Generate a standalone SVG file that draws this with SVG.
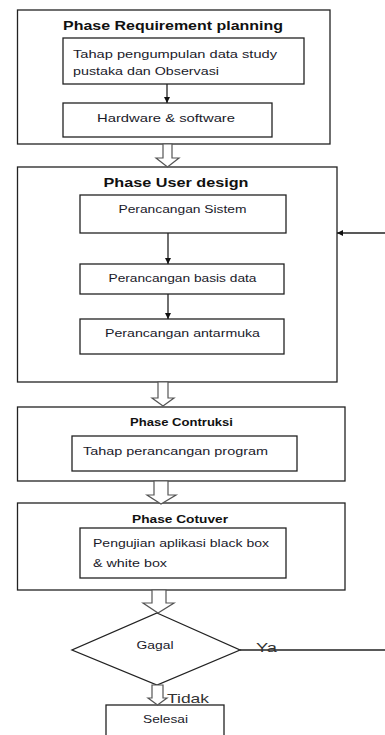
<svg xmlns="http://www.w3.org/2000/svg" width="385" height="735" viewBox="0 0 385 735">
<style>
.box{fill:#fff;stroke:#222;stroke-width:1.3}
.t{font-family:"Liberation Sans",Arial,sans-serif;font-size:11.5px;fill:#1a1a2a}
.b{font-family:"Liberation Sans",Arial,sans-serif;font-weight:bold;font-size:13.5px;fill:#111}
.bs{font-family:"Liberation Sans",Arial,sans-serif;font-weight:bold;font-size:11.5px;fill:#111}
.lbl{font-family:"Liberation Sans",Arial,sans-serif;font-size:13.5px;fill:#333}
.ln{stroke:#222;stroke-width:1.3;fill:none}
.hollow{fill:#fff;stroke:#555;stroke-width:1.2}
</style>
<defs>
<marker id="ah" viewBox="0 0 10 10" refX="10" refY="5" markerWidth="6" markerHeight="6" orient="auto" markerUnits="userSpaceOnUse">
<path d="M0,0 L10,5 L0,10 z" fill="#111"/>
</marker>
</defs>
<rect x="0" y="0" width="385" height="735" fill="#fff"/>
<g id="phase-requirement">
<rect class="box" x="17.5" y="10" width="312.5" height="134"/>
<text class="b" x="173" y="30" text-anchor="middle" textLength="220" lengthAdjust="spacingAndGlyphs">Phase Requirement planning</text>
</g>
<g id="tahap-pengumpulan">
<rect class="box" x="63" y="38" width="241" height="46"/>
<text class="t" x="73" y="58" textLength="204" lengthAdjust="spacingAndGlyphs">Tahap pengumpulan  data study</text>
<text class="t" x="73" y="75" textLength="146" lengthAdjust="spacingAndGlyphs">pustaka dan Observasi</text>
</g>
<g id="hardware">
<rect class="box" x="63" y="103" width="209" height="34"/>
<text class="t" x="166" y="122" text-anchor="middle" textLength="138" lengthAdjust="spacingAndGlyphs">Hardware &amp; software</text>
</g>
<g id="phase-user-design">
<rect class="box" x="17.5" y="167" width="319.5" height="215"/>
<text class="b" x="176" y="187" text-anchor="middle" textLength="145" lengthAdjust="spacingAndGlyphs">Phase User design</text>
</g>
<g id="perancangan-sistem">
<rect class="box" x="80" y="195" width="206" height="38"/>
<text class="t" x="182.5" y="213" text-anchor="middle" textLength="128" lengthAdjust="spacingAndGlyphs">Perancangan Sistem</text>
</g>
<g id="perancangan-basis-data">
<rect class="box" x="80" y="264" width="204" height="30"/>
<text class="t" x="182.5" y="282" text-anchor="middle" textLength="148" lengthAdjust="spacingAndGlyphs">Perancangan basis data</text>
</g>
<g id="perancangan-antarmuka">
<rect class="box" x="80" y="319" width="204" height="35"/>
<text class="t" x="182.5" y="337" text-anchor="middle" textLength="155" lengthAdjust="spacingAndGlyphs">Perancangan antarmuka</text>
</g>
<g id="phase-contruksi">
<rect class="box" x="17.5" y="407" width="327.5" height="74"/>
<text class="bs" x="181.5" y="426" text-anchor="middle" textLength="103" lengthAdjust="spacingAndGlyphs">Phase Contruksi</text>
</g>
<g id="tahap-perancangan-program">
<rect class="box" x="72" y="436" width="225" height="35"/>
<text class="t" x="83" y="455" textLength="185" lengthAdjust="spacingAndGlyphs">Tahap perancangan program</text>
</g>
<g id="phase-cotuver">
<rect class="box" x="17.5" y="503" width="327.5" height="87"/>
<text class="bs" x="180" y="523" text-anchor="middle" textLength="96" lengthAdjust="spacingAndGlyphs">Phase  Cotuver</text>
</g>
<g id="pengujian">
<rect class="box" x="80" y="528" width="206" height="50"/>
<text class="t" x="93" y="547" textLength="176" lengthAdjust="spacingAndGlyphs">Pengujian aplikasi black box</text>
<text class="t" x="93" y="567" textLength="74" lengthAdjust="spacingAndGlyphs">&amp; white box</text>
</g>
<g id="gagal">
<polygon class="box" points="157,613 240,650 157,685 72,650"/>
<text class="t" x="155" y="649" text-anchor="middle" textLength="37" lengthAdjust="spacingAndGlyphs">Gagal</text>
</g>
<g id="selesai">
<rect class="box" x="106" y="705" width="118" height="40"/>
<text class="t" x="165.5" y="723" text-anchor="middle" textLength="45" lengthAdjust="spacingAndGlyphs">Selesai</text>
</g>
<g id="connectors">
<line class="ln" x1="167" y1="84" x2="167" y2="103" marker-end="url(#ah)"/>
<line class="ln" x1="168" y1="233" x2="168" y2="264" marker-end="url(#ah)"/>
<line class="ln" x1="168" y1="294" x2="168" y2="319" marker-end="url(#ah)"/>
<line class="ln" x1="385" y1="233" x2="337" y2="233" marker-end="url(#ah)"/>
<line class="ln" x1="240" y1="650" x2="385" y2="650"/>
<polygon class="hollow" points="163,144 172,144 172,158 179,158 167.5,167 156,158 163,158"/>
<polygon class="hollow" points="158,382 168,382 168,398 174,398 163,406 152,398 158,398"/>
<polygon class="hollow" points="154,481 168,481 168,495 176,495 161,504 147,495 154,495"/>
<polygon class="hollow" points="152,590 166,590 166,603 174,603 158,613 143,603 152,603"/>
<polygon class="hollow" points="152,685 163,685 163,698 167,698 157.5,705 148,698 152,698"/>
<text class="lbl" x="256" y="652" textLength="21" lengthAdjust="spacingAndGlyphs">Ya</text>
<text class="lbl" x="167" y="703" textLength="42" lengthAdjust="spacingAndGlyphs">Tidak</text>
</g>
</svg>
